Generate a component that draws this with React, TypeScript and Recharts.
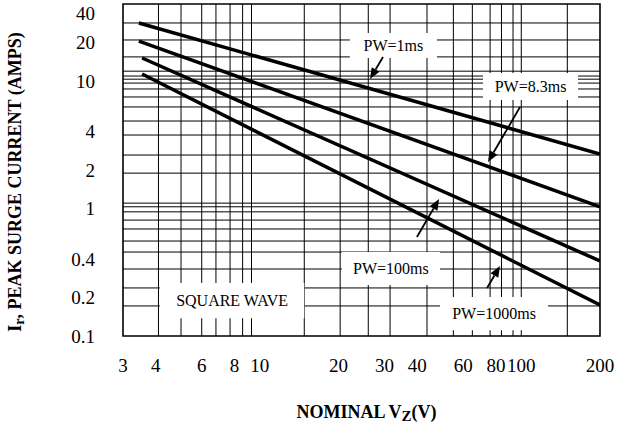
// Peak surge current vs nominal zener voltage, log-log, four pulse widths
import {
  LineChart,
  Line,
  XAxis,
  YAxis,
  CartesianGrid,
  ReferenceArea,
  ReferenceLine,
  Label,
} from "recharts";

const FONT = "'Liberation Serif', 'Times New Roman', serif";

// series: [Vz (V), Ir (A)] endpoints
const PW_1MS = [
  { vz: 3.45, ir: 28.4 },
  { vz: 200, ir: 2.67 },
];
const PW_8_3MS = [
  { vz: 3.45, ir: 20.5 },
  { vz: 200, ir: 1.03 },
];
const PW_100MS = [
  { vz: 3.55, ir: 15.1 },
  { vz: 200, ir: 0.387 },
];
const PW_1000MS = [
  { vz: 3.55, ir: 11.3 },
  { vz: 200, ir: 0.175 },
];

const X_TICKS = [3, 4, 6, 8, 10, 20, 30, 40, 60, 80, 100, 200];
const Y_TICKS = [0.1, 0.2, 0.4, 1, 2, 4, 10, 20, 40];

// graph paper lines (as printed, not perfectly regular)
const VZ_GRID = [4.1, 5, 6, 6.8, 7.7, 8.6, 9.3, 14.8, 20.3, 26, 31.5, 43.6, 55, 65, 76, 84, 93, 100, 150];
const IR_GRID = [
  0.172, 0.238, 0.335, 0.455, 0.555, 0.69, 0.81, 0.94, 1.03, 1.1,
  1.89, 2.62, 3.76, 4.84, 6.24, 7.47, 8.63, 9.6, 10.3, 10.9, 11.9, 15.4, 20.9, 28.4,
];

// annotation boxes: [label, vz1, vz2, ir1, ir2]
const NOTES: [string, number, number, number, number][] = [
  ["PW=1ms", 22.1, 47.6, 15.1, 23.7],
  ["PW=8.3ms", 71.4, 164.8, 7.07, 11.5],
  ["PW=100ms", 20.6, 48.9, 0.251, 0.455],
  ["PW=1000ms", 48.9, 126.6, 0.111, 0.202],
  ["SQUARE WAVE", 4.15, 14.8, 0.138, 0.26],
];

// arrows: from [vz, ir] to [vz, ir]
const ARROWS: [number, number, number, number][] = [
  [29.6, 15.37, 26.4, 10.33],
  [98.9, 6.23, 74.6, 2.31],
  [39.9, 0.597, 48.5, 1.185],
  [74, 0.238, 82.9, 0.354],
];

function Arrow(props: any) {
  const { x1, y1, x2, y2 } = props;
  const dx = x2 - x1;
  const dy = y2 - y1;
  const len = Math.hypot(dx, dy) || 1;
  const ux = dx / len;
  const uy = dy / len;
  const hl = 11;
  const hw = 4.5;
  const bx = x2 - ux * hl;
  const by = y2 - uy * hl;
  return (
    <g>
      <line x1={x1} y1={y1} x2={bx} y2={by} stroke="#000" strokeWidth={1.8} />
      <polygon
        points={`${x2},${y2} ${bx - uy * hw},${by + ux * hw} ${bx + uy * hw},${by - ux * hw}`}
        fill="#000"
      />
    </g>
  );
}

// keeps the top label inside the picture
function YTick(props: any) {
  const { x, y, payload } = props;
  const ty = Math.max(y, 13);
  return (
    <text x={x} y={ty} dy="0.355em" textAnchor="end" fontSize={19} fill="#000" fontFamily={FONT}>
      {payload.value}
    </text>
  );
}

function XTick(props: any) {
  const { x, y, payload } = props;
  return (
    <text x={x} y={y} dy="0.71em" textAnchor="middle" fontSize={19} fill="#000" fontFamily={FONT}>
      {payload.value}
    </text>
  );
}

function noteLabel(text: string) {
  return (props: any) => {
    const vb = props.viewBox;
    return (
      <text
        x={vb.x + vb.width / 2}
        y={vb.y + vb.height / 2}
        dy="0.35em"
        textAnchor="middle"
        fontSize={16}
        fill="#000"
        fontFamily={FONT}
      >
        {text}
      </text>
    );
  };
}

function YTitle(props: any) {
  const vb = props.viewBox;
  const cx = vb.x + 15;
  const cy = vb.y + vb.height / 2 + 12;
  return (
    <text
      x={cx}
      y={cy}
      transform={`rotate(-90, ${cx}, ${cy})`}
      textAnchor="middle"
      dominantBaseline="central"
      fontFamily={FONT}
      fontWeight="bold"
      fontSize={18}
      fill="#000"
    >
      I
      <tspan dy={4} fontSize={14}>r</tspan>
      <tspan dy={-4}>, PEAK SURGE CURRENT (AMPS)</tspan>
    </text>
  );
}

function XTitle(props: any) {
  const vb = props.viewBox;
  return (
    <text
      x={vb.x + vb.width / 2 + 5}
      y={vb.y + 82}
      textAnchor="middle"
      fontFamily={FONT}
      fontWeight="bold"
      fontSize={18}
      fill="#000"
    >
      NOMINAL V
      <tspan dy={3} fontSize={15}>Z</tspan>
      <tspan dy={-3}>(V)</tspan>
    </text>
  );
}

const SERIES = [PW_1MS, PW_8_3MS, PW_100MS, PW_1000MS];

export default function App() {
  return (
    <div
      style={{
        position: "absolute",
        left: 0,
        top: 0,
        width: 621,
        height: 435,
        background: "#fff",
        fontFamily: FONT,
      }}
    >
      <LineChart
        width={621}
        height={435}
        margin={{ top: 4, right: 21, left: 0, bottom: 0 }}
        style={{ fontFamily: FONT }}
      >
        <CartesianGrid
          stroke="#000"
          strokeWidth={1}
          horizontalValues={IR_GRID}
          verticalValues={VZ_GRID}
          syncWithTicks={false}
        />
        <XAxis
          type="number"
          dataKey="vz"
          scale="log"
          domain={[3, 200]}
          allowDataOverflow
          ticks={X_TICKS}
          interval={0}
          axisLine={false}
          tickLine={false}
          tickSize={0}
          tickMargin={23}
          height={99}
          tick={XTick}
        >
          <Label content={XTitle} />
        </XAxis>
        <YAxis
          type="number"
          dataKey="ir"
          scale="log"
          domain={[0.1, 40]}
          allowDataOverflow
          ticks={Y_TICKS}
          interval={0}
          axisLine={false}
          tickLine={false}
          tickSize={0}
          tickMargin={28}
          width={123}
          tick={YTick}
        >
          <Label content={YTitle} />
        </YAxis>
        {NOTES.map(([text, xa, xb, ya, yb]) => (
          <ReferenceArea
            key={text}
            x1={xa}
            x2={xb}
            y1={ya}
            y2={yb}
            fill="#fff"
            fillOpacity={1}
            stroke="none"
            ifOverflow="visible"
            label={noteLabel(text)}
          />
        ))}
        <ReferenceArea
          x1={3}
          x2={200}
          y1={0.1}
          y2={40}
          fill="none"
          stroke="#000"
          strokeWidth={1.6}
          ifOverflow="visible"
        />
        {SERIES.map((d, i) => (
          <Line
            key={i}
            data={d}
            dataKey="ir"
            type="linear"
            stroke="#000"
            strokeWidth={3.5}
            dot={false}
            activeDot={false}
            isAnimationActive={false}
          />
        ))}
        {ARROWS.map(([xa, ya, xb, yb], i) => (
          <ReferenceLine
            key={i}
            segment={[
              { x: xa, y: ya },
              { x: xb, y: yb },
            ]}
            stroke="#000"
            shape={Arrow}
          />
        ))}
      </LineChart>
    </div>
  );
}
